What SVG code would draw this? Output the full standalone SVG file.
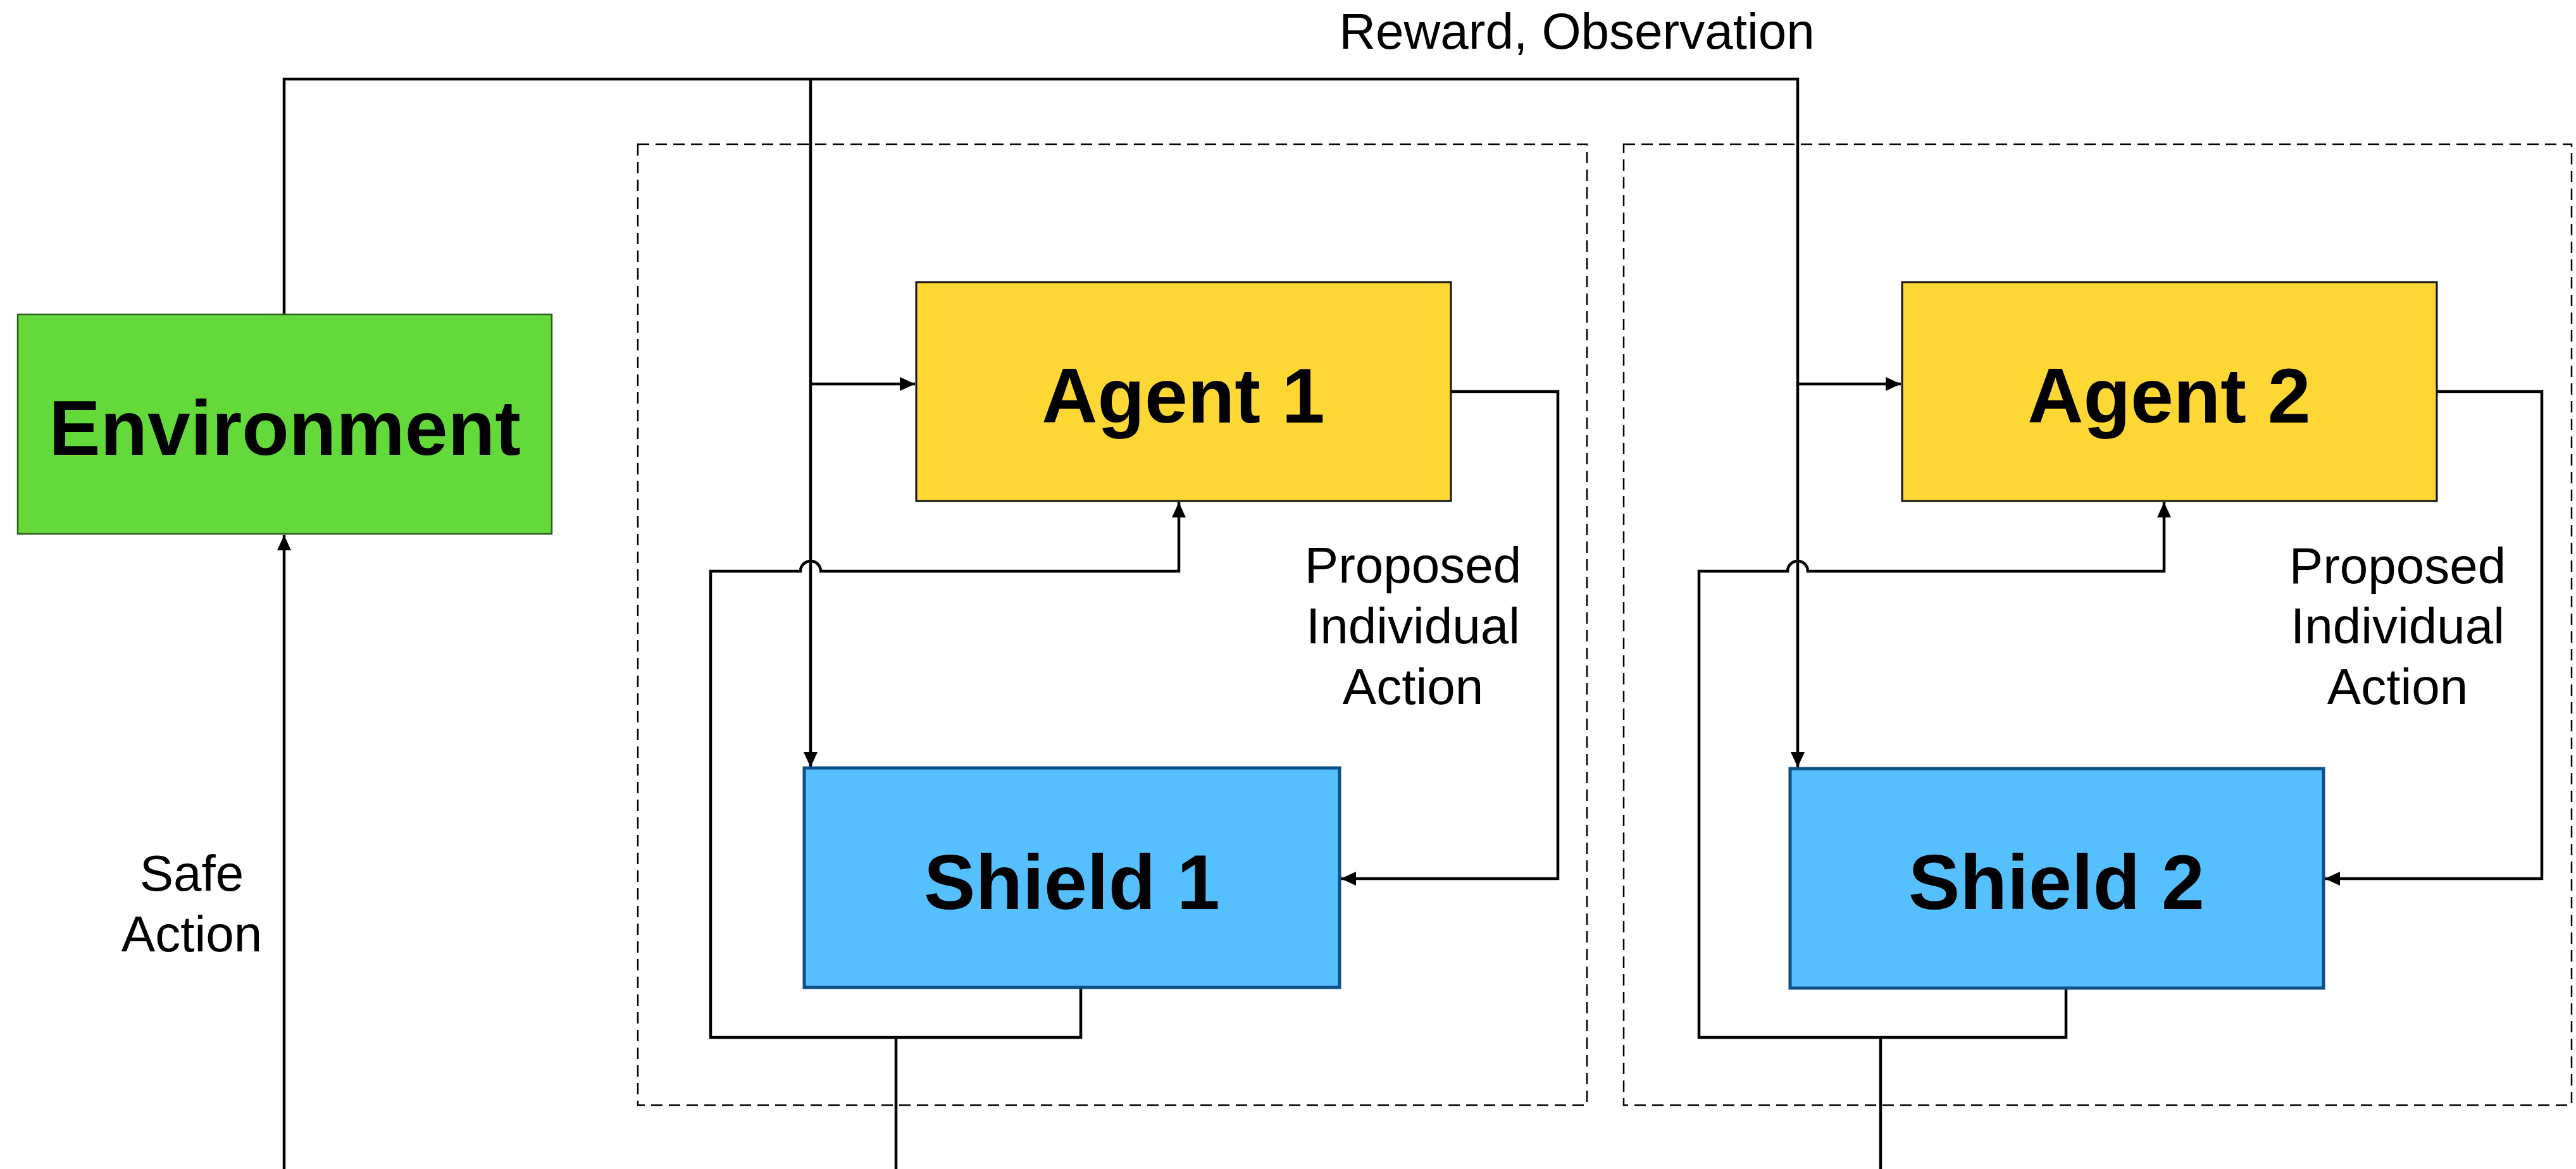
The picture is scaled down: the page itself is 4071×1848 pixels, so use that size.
<svg xmlns="http://www.w3.org/2000/svg" width="4071" height="1848" viewBox="0 0 4071 1848">
<style>
.box-text{font-family:"Liberation Sans",Arial,sans-serif;font-weight:bold;font-size:122px;fill:#000;text-anchor:middle}
.lbl{font-family:"Liberation Sans",Arial,sans-serif;font-size:80px;fill:#000;text-anchor:middle}
.conn{fill:none;stroke:#000;stroke-width:4.5;stroke-linejoin:miter}
.dash{fill:none;stroke:#000;stroke-width:2.5;stroke-dasharray:18 10}
.env{fill:#63D93A;stroke:#2d5a1e;stroke-width:2.5}
.agent{fill:#FDD733;stroke:#111;stroke-width:3}
.shield{fill:#56BFFD;stroke:#0d4f87;stroke-width:5}
</style>
<defs>
<marker id="arr" markerUnits="userSpaceOnUse" markerWidth="26" markerHeight="24" refX="24" refY="11" orient="auto">
<path d="M0,0 L24,11 L0,22 z" fill="#000"/>
</marker>
</defs>
<rect width="4071" height="1848" fill="#fff"/>
<g id="groups">
<rect id="group1" class="dash" x="1008" y="228" width="1500" height="1519"/>
<rect id="group2" class="dash" x="2566" y="228" width="1498" height="1519"/>
</g>
<g id="connectors">
<path class="conn" d="M449,496 V125 H2841 V1213" marker-end="url(#arr)"/>
<path class="conn" d="M1281,125 V1213" marker-end="url(#arr)"/>
<path class="conn" d="M1281,607 H1446" marker-end="url(#arr)"/>
<path class="conn" d="M2841,607 H3004" marker-end="url(#arr)"/>
<path class="conn" d="M2293,619 H2462 V1389 H2119" marker-end="url(#arr)"/>
<path class="conn" d="M3851,619 H4017 V1389 H3674" marker-end="url(#arr)"/>
<path class="conn" d="M1708,1561 V1640 H1123 V903 H1265 A16,16 0 0 1 1297,903 H1863 V794" marker-end="url(#arr)"/>
<path class="conn" d="M3265,1562 V1640 H2685 V903 H2825 A16,16 0 0 1 2857,903 H3420 V794" marker-end="url(#arr)"/>
<path class="conn" d="M1416,1640 V1848"/>
<path class="conn" d="M2972,1640 V1848"/>
<path class="conn" d="M449,1848 V846" marker-end="url(#arr)"/>
</g>
<g id="environment">
<rect class="env" x="28" y="497" width="844" height="347"/>
<text class="box-text" x="450" y="719">Environment</text>
</g>
<g id="agent1">
<rect class="agent" x="1448" y="446" width="845" height="346"/>
<text class="box-text" x="1870" y="668">Agent 1</text>
</g>
<g id="shield1">
<rect class="shield" x="1271" y="1214" width="846" height="347"/>
<text class="box-text" x="1694" y="1437">Shield 1</text>
</g>
<g id="agent2">
<rect class="agent" x="3006" y="446" width="845" height="346"/>
<text class="box-text" x="3428" y="668">Agent 2</text>
</g>
<g id="shield2">
<rect class="shield" x="2829" y="1215" width="843" height="347"/>
<text class="box-text" x="3250" y="1437">Shield 2</text>
</g>
<g id="labels">
<text class="lbl" x="2492" y="77">Reward, Observation</text>
<text class="lbl" x="2233" y="921">Proposed</text>
<text class="lbl" x="2233" y="1017">Individual</text>
<text class="lbl" x="2233" y="1113">Action</text>
<text class="lbl" x="3789" y="922">Proposed</text>
<text class="lbl" x="3789" y="1017">Individual</text>
<text class="lbl" x="3789" y="1113">Action</text>
<text class="lbl" x="303" y="1408">Safe</text>
<text class="lbl" x="303" y="1504">Action</text>
</g>
</svg>
